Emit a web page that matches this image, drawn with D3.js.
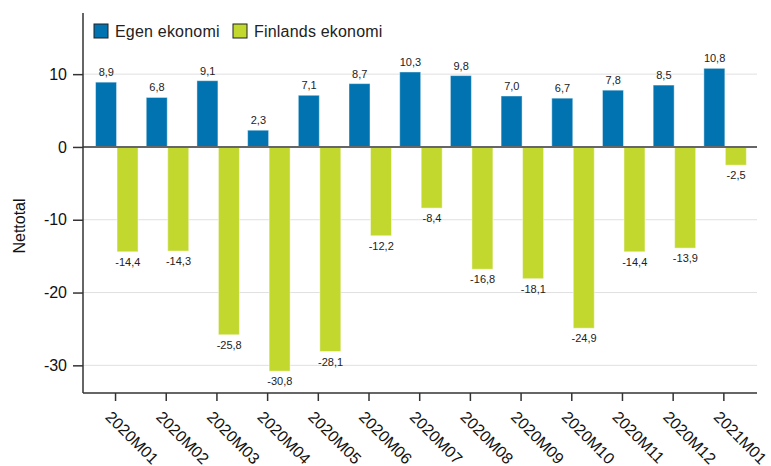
<!DOCTYPE html>
<html>
<head>
<meta charset="utf-8">
<script src="https://cdn.jsdelivr.net/npm/d3@7"></script>
<style>
  body { margin: 0; background: #fff; }
  svg { font-family: "Liberation Sans", Arial, sans-serif; }
</style>
</head>
<body>
<svg id="chart" width="771" height="466"></svg>
<script>
var months = ["2020M01", "2020M02", "2020M03", "2020M04", "2020M05", "2020M06", "2020M07",
    "2020M08", "2020M09", "2020M10", "2020M11", "2020M12", "2021M01"];
var seriesNames = ["Egen ekonomi", "Finlands ekonomi"];
var egen = [8.9, 6.8, 9.1, 2.3, 7.1, 8.7, 10.3, 9.8, 7.0, 6.7, 7.8, 8.5, 10.8];
var finlands = [-14.4, -14.3, -25.8, -30.8, -28.1, -12.2, -8.4, -16.8, -18.1, -24.9, -14.4, -13.9, -2.5];
var yTicks = [10, 0, -10, -20, -30];
var colors = ["#0073b0", "#c2d82f"];

var svg = d3.select("#chart");
var plotLeft = 83, plotRight = 757, plotTop = 13, plotBottom = 393;

var locale = d3.formatLocale({ decimal: ",", thousands: " ", grouping: [3], currency: ["", ""], minus: "-" });
var fmt = locale.format(".1f");
var fmtTick = locale.format("d");

var x = d3.scaleBand().domain(months).range([91.7, 750.7]);
var x1 = d3.scaleBand().domain(seriesNames).range([0, 43]);
var y = d3.scaleLinear().domain([-33.8, 18.4]).range([plotBottom, plotTop]);

// grid
svg.append("g").selectAll("line")
    .data(yTicks.filter(function (d) { return d !== 0; }))
    .enter().append("line")
    .attr("x1", plotLeft).attr("x2", plotRight)
    .attr("y1", function (d) { return y(d); })
    .attr("y2", function (d) { return y(d); })
    .attr("stroke", "#e0e0e0").attr("stroke-width", 1);

var rows = months.map(function (m, i) {
    return [{ m: m, s: seriesNames[0], v: egen[i] }, { m: m, s: seriesNames[1], v: finlands[i] }];
});

var groups = svg.append("g").selectAll("g")
    .data(rows).enter().append("g")
    .attr("transform", function (d) { return "translate(" + (x(d[0].m) + (x.bandwidth() - 43) / 2) + ",0)"; });

groups.selectAll("rect")
    .data(function (d) { return d; })
    .enter().append("rect")
    .attr("x", function (d) { return x1(d.s); })
    .attr("width", x1.bandwidth() - 0.5)
    .attr("y", function (d) { return y(Math.max(0, d.v)); })
    .attr("height", function (d) { return Math.abs(y(d.v) - y(0)); })
    .attr("fill", function (d, i) { return colors[i]; })
    .attr("stroke", "rgba(255,255,255,0.45)")
    .attr("stroke-width", 1);

groups.selectAll("text")
    .data(function (d) { return d; })
    .enter().append("text")
    .attr("x", function (d) { return x1(d.s) + x1.bandwidth() / 2; })
    .attr("y", function (d) { return d.v >= 0 ? y(d.v) - 6 : y(d.v) + 14; })
    .attr("text-anchor", "middle")
    .attr("font-size", 11)
    .attr("fill", "#222")
    .text(function (d) { return fmt(d.v); });

// zero line
svg.append("line")
    .attr("x1", plotLeft).attr("x2", plotRight)
    .attr("y1", y(0)).attr("y2", y(0))
    .attr("stroke", "#666").attr("stroke-width", 2);

// y axis
var yAxis = svg.append("g")
    .attr("transform", "translate(" + plotLeft + ",0)")
    .call(d3.axisLeft(y).tickValues(yTicks).tickSize(10).tickPadding(6).tickFormat(fmtTick));
yAxis.select(".domain").attr("stroke", "#333").attr("stroke-width", 1.5)
    .attr("d", "M0," + plotTop + "V" + plotBottom);
yAxis.selectAll(".tick line").attr("stroke", "#333").attr("stroke-width", 1.5);
yAxis.selectAll(".tick text").attr("font-size", 16).attr("fill", "#111")
    .attr("font-family", "Liberation Sans, Arial, sans-serif");

// x axis
var xAxis = svg.append("g")
    .attr("transform", "translate(-1.5," + plotBottom + ")")
    .call(d3.axisBottom(x).tickSize(8).tickPadding(0));
xAxis.select(".domain").attr("stroke", "#333").attr("stroke-width", 1.5)
    .attr("d", "M" + (plotLeft + 1.5) + ",0H" + (plotRight + 1.5));
xAxis.selectAll(".tick line").attr("stroke", "#333").attr("stroke-width", 1.5);
xAxis.selectAll(".tick text")
    .attr("font-size", 16).attr("fill", "#111")
    .attr("font-family", "Liberation Sans, Arial, sans-serif")
    .attr("text-anchor", "start")
    .attr("dy", null)
    .attr("y", 0)
    .attr("transform", "translate(-11,25) rotate(45)");

// y title
svg.append("text")
    .attr("transform", "translate(25,226) rotate(-90)")
    .attr("text-anchor", "middle")
    .attr("font-size", 16)
    .attr("fill", "#111")
    .text("Nettotal");

// legend
var legendX = [94, 233];
var legend = svg.append("g").selectAll("g")
    .data(seriesNames).enter().append("g")
    .attr("transform", function (d, i) { return "translate(" + legendX[i] + ",24)"; });
legend.append("rect")
    .attr("width", 14).attr("height", 14)
    .attr("fill", function (d, i) { return colors[i]; })
    .attr("stroke", "#222").attr("stroke-width", 1);
legend.append("text")
    .attr("x", 21).attr("y", 12.5)
    .attr("font-size", 16).attr("fill", "#222")
    .attr("letter-spacing", 0.2)
    .text(function (d) { return d; });
</script>
</body>
</html>
